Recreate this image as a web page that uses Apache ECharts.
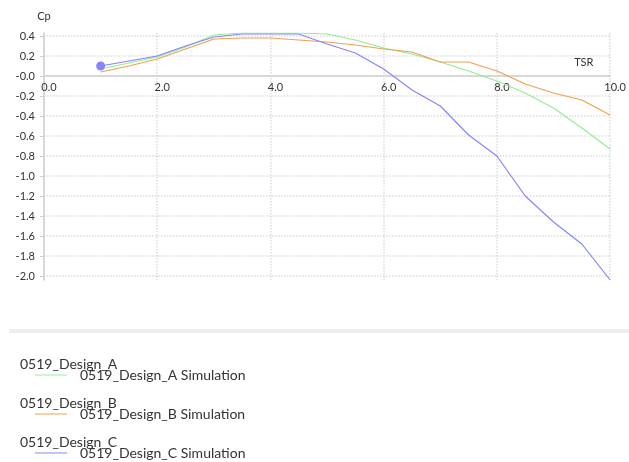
<!DOCTYPE html>
<html>
<head>
<meta charset="utf-8">
<script src="https://cdn.jsdelivr.net/npm/echarts@6/dist/echarts.min.js"></script>
<style>
  html, body { margin: 0; padding: 0; background: #fff; }
  #chart { width: 629px; height: 462px; }
</style>
</head>
<body>
<div id="chart"></div>
<script>
// TSR values (x) shared by all curves
const tsr = [1, 1.5, 2, 2.5, 3, 3.5, 4, 4.5, 5, 5.5, 6, 6.5, 7, 7.5, 8, 8.5, 9, 9.5, 10];
const cpA = [0.07, 0.13, 0.19, 0.29, 0.41, 0.43, 0.43, 0.43, 0.42, 0.36, 0.28, 0.22, 0.14, 0.05, -0.05, -0.17, -0.32, -0.52, -0.73];
const cpB = [0.04, 0.10, 0.17, 0.27, 0.37, 0.38, 0.38, 0.36, 0.34, 0.31, 0.27, 0.24, 0.14, 0.14, 0.05, -0.08, -0.17, -0.24, -0.39];
const cpC = [0.10, 0.15, 0.20, 0.30, 0.39, 0.42, 0.42, 0.42, 0.32, 0.23, 0.07, -0.14, -0.30, -0.59, -0.80, -1.20, -1.46, -1.68, -2.04];

const designNames = ['0519_Design_A', '0519_Design_B', '0519_Design_C'];
const simNames = designNames.map(n => n + ' Simulation');
const colors = ['#94ec94', '#f0a050', '#8585ff'];

const yMin = -2.04, yMax = 0.43;
const gridTop = 33, gridBottom = 182, chartH = 462;

const chart = echarts.init(document.getElementById('chart'));

function pairs(ys) {
    return tsr.map((x, i) => [x, ys[i]]);
}

const cData = pairs(cpC);
cData[0] = {value: cData[0], symbol: 'circle', symbolSize: 9};

const font = 'Lato, "Noto Sans", sans-serif';

// x axis sits on the zero line, labels just under it
const plotH = chartH - gridTop - gridBottom;
const zeroOffset = -Math.round(plotH * yMax / (yMax - yMin));

chart.setOption({
    animation: false,
    color: colors,
    grid: {left: 44, right: 11, top: gridTop, bottom: gridBottom},
    xAxis: {
        type: 'value',
        position: 'top',
        offset: zeroOffset,
        min: 0,
        max: 10,
        interval: 2,
        name: 'TSR',
        nameLocation: 'end',
        nameGap: -36,
        nameTextStyle: {color: '#333', fontSize: 11, fontFamily: font, align: 'left', verticalAlign: 'bottom', padding: [0, 0, 8, 0]},
        axisLine: {onZero: false, lineStyle: {color: '#cfcfcf', width: 1.5}},
        axisTick: {show: false},
        axisLabel: {
            inside: true,
            color: '#333', fontSize: 11, fontFamily: font, margin: 6, padding: [0, 0, 0, 10],
            formatter: v => v.toFixed(1)
        },
        splitLine: {lineStyle: {color: '#dddddd', type: 'dotted', width: 1.5}}
    },
    yAxis: {
        type: 'value',
        min: yMin,
        max: yMax,
        splitNumber: 12,
        name: 'Cp',
        nameLocation: 'end',
        nameGap: 11,
        nameTextStyle: {color: '#333', fontSize: 11, fontFamily: font},
        axisLine: {show: true, lineStyle: {color: '#cfcfcf', width: 1.5}},
        axisTick: {show: true, length: 4, lineStyle: {color: '#cfcfcf'}},
        axisLabel: {
            color: '#333', fontSize: 11, fontFamily: font, margin: 9,
            showMinLabel: false, showMaxLabel: false,
            formatter: v => (Math.abs(v) < 1e-9 ? '-0.0' : v.toFixed(1))
        },
        splitLine: {showMinLine: false, showMaxLine: false, lineStyle: {color: '#dddddd', type: 'dotted', width: 1.5}}
    },
    legend: simNames.map((n, i) => ({
        left: 35,
        top: 368 + i * 39,
        padding: 0,
        itemWidth: 32,
        itemHeight: 1,
        icon: 'rect',
        textStyle: {color: '#333', fontSize: 14, fontFamily: font, padding: [0, 0, 0, 8]},
        data: [n]
    })),
    graphic: [
        {type: 'rect', left: 9, top: 329, shape: {width: 620, height: 4}, style: {fill: '#eeeeee'}}
    ].concat(designNames.map((n, i) => ({
        type: 'text', left: 20, top: 357 + i * 39,
        style: {text: n, fill: '#333', font: '14px ' + font}
    }))),
    series: [
        {name: simNames[0], type: 'line', symbol: 'none', lineStyle: {width: 1.2}, data: pairs(cpA)},
        {name: simNames[1], type: 'line', symbol: 'none', lineStyle: {width: 1.2}, data: pairs(cpB)},
        {name: simNames[2], type: 'line', symbol: 'none', showSymbol: true, lineStyle: {width: 1.2}, data: cData}
    ]
});
</script>
</body>
</html>
